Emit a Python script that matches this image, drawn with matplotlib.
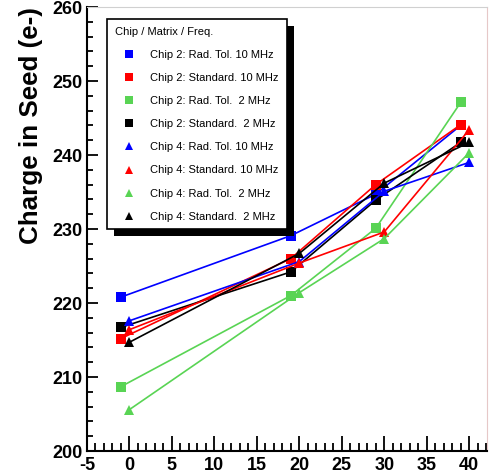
import matplotlib
matplotlib.use('Agg')
import matplotlib.pyplot as plt
from matplotlib.lines import Line2D
from matplotlib.patches import Rectangle
from matplotlib.ticker import MultipleLocator

plt.rcParams['font.family'] = ['Liberation Sans', 'DejaVu Sans']
plt.rcParams['axes.unicode_minus'] = False

# x positions: chip 2 points sit 1 unit left of chip 4 points
x_chip2 = [-1, 19, 29, 39]
x_chip4 = [0, 20, 30, 40]

labels = [
    'Chip 2: Rad. Tol. 10 MHz',
    'Chip 2: Standard. 10 MHz',
    'Chip 2: Rad. Tol.  2 MHz',
    'Chip 2: Standard.  2 MHz',
    'Chip 4: Rad. Tol. 10 MHz',
    'Chip 4: Standard. 10 MHz',
    'Chip 4: Rad. Tol.  2 MHz',
    'Chip 4: Standard.  2 MHz',
]

c2_radtol_10 = [220.8, 229.1, 234.7, 244.0]
c2_std_10 = [215.2, 226.0, 236.0, 244.1]
c2_radtol_2 = [208.7, 221.0, 230.1, 247.1]
c2_std_2 = [216.7, 224.2, 233.9, 241.7]
c4_radtol_10 = [217.6, 225.6, 235.1, 239.0]
c4_std_10 = [216.4, 225.4, 229.6, 243.4]
c4_radtol_2 = [205.6, 221.4, 228.7, 240.3]
c4_std_2 = [214.7, 226.7, 236.2, 241.7]

blue, red, green, black = '#0000ff', '#ff0000', '#59d454', '#000000'

series = [
    (x_chip2, c2_radtol_10, blue, 's'),
    (x_chip2, c2_std_10, red, 's'),
    (x_chip2, c2_radtol_2, green, 's'),
    (x_chip2, c2_std_2, black, 's'),
    (x_chip4, c4_radtol_10, blue, '^'),
    (x_chip4, c4_std_10, red, '^'),
    (x_chip4, c4_radtol_2, green, '^'),
    (x_chip4, c4_std_2, black, '^'),
]

fig = plt.figure(figsize=(4.94, 4.76), dpi=100)
ax = fig.add_axes([87 / 494, 25 / 476, 400 / 494, 444 / 476])

handles = []
for (xs, ys, col, mk), lab in zip(series, labels):
    ax.plot(xs, ys, color=col, lw=1.2, marker=mk, markersize=6.5,
            markeredgewidth=0, clip_on=False)
    handles.append(Line2D([], [], color=col, marker=mk, linestyle='none',
                          markersize=6, markeredgewidth=0))

ax.set_xlim(-5, 42.1)
ax.set_ylim(200, 260)
ax.xaxis.set_major_locator(MultipleLocator(5))
ax.xaxis.set_minor_locator(MultipleLocator(1))
ax.yaxis.set_major_locator(MultipleLocator(10))
ax.yaxis.set_minor_locator(MultipleLocator(2))
ax.tick_params(which='both', direction='in', width=1.3, top=False, right=False,
               labelsize=13)
ax.tick_params(axis='y', pad=3)
ax.tick_params(axis='x', pad=4)
ax.tick_params(axis='x', which='major', length=11)
ax.tick_params(axis='x', which='minor', length=5.5)
ax.tick_params(axis='y', which='major', length=8)
ax.tick_params(axis='y', which='minor', length=4)
for lbl in ax.get_xticklabels() + ax.get_yticklabels():
    lbl.set_fontweight('bold')

ax.spines['left'].set_linewidth(1.5)
ax.spines['bottom'].set_linewidth(1.5)
ax.spines['top'].set_color('#d0d0d0')
ax.spines['right'].set_color('#e6c8c8')

ax.set_ylabel('Charge in Seed (e-)', fontsize=18.7, fontweight='bold', loc='top')
ax.yaxis.set_label_coords(-0.11, 1.0)

leg = ax.legend(handles=handles, labels=labels, title='Chip / Matrix / Freq.',
                loc='upper left', bbox_to_anchor=(20 / 400, 1 - 12 / 444),
                fontsize=8, title_fontsize=8, alignment='left',
                frameon=True, fancybox=False, edgecolor='black',
                facecolor='white', framealpha=1,
                handlelength=2.6, handletextpad=0.6, labelspacing=1.18,
                borderpad=0.7, borderaxespad=0)
leg.get_frame().set_linewidth(1.2)
leg.set_zorder(6)

# ROOT-style solid black drop shadow behind the legend box
fig.canvas.draw()
bb = leg.get_frame().get_window_extent()
inv = ax.transAxes.inverted()
(x0, y0), (x1, y1) = inv.transform([[bb.x0 + 7, bb.y0 - 7], [bb.x1 + 7, bb.y1 - 7]])
ax.add_patch(Rectangle((x0, y0), x1 - x0, y1 - y0, transform=ax.transAxes,
                       facecolor='black', edgecolor='none', zorder=5.5,
                       clip_on=False))

fig.savefig('out.png', dpi=100)
